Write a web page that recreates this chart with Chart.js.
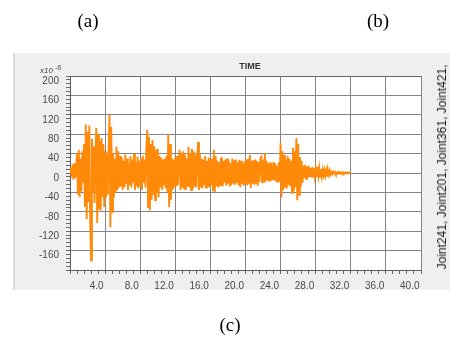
<!DOCTYPE html>
<html><head><meta charset="utf-8">
<script src="https://cdn.jsdelivr.net/npm/chart.js@4/dist/chart.umd.min.js"></script>
<style>
html,body{margin:0;padding:0;background:#fff;}
#wrap{position:relative;width:458px;height:343px;overflow:hidden;font-family:"Liberation Sans",Arial,sans-serif;}
#panel{position:absolute;left:13px;top:53px;width:437px;height:237px;background:#efefef;border-left:2px solid #dcdcdc;box-sizing:border-box;}
#c{position:absolute;left:0;top:0;}
.cap{position:absolute;font-family:"Liberation Serif","Times New Roman",serif;font-size:19px;color:#000;transform:translate(-50%,-50%);white-space:nowrap;}
#title{position:absolute;left:250px;top:66px;transform:translate(-50%,-50%);font-size:9px;font-weight:bold;color:#333;white-space:nowrap;}
#unit{position:absolute;left:40px;top:64px;font-size:8px;font-style:italic;color:#444;white-space:nowrap;}
#unit sup{font-size:7px;vertical-align:3px;margin-left:2px;}
#legend{position:absolute;left:442px;top:167px;transform:translate(-50%,-50%) rotate(-90deg);font-size:12px;white-space:nowrap;color:#1a1a1a;}
</style>
</head><body>
<div id="wrap">
  <div id="panel"></div>
  <canvas id="c" width="458" height="343"></canvas>
  <div class="cap" style="left:88px;top:21px;">(a)</div>
  <div class="cap" style="left:378px;top:21px;">(b)</div>
  <div class="cap" style="left:230px;top:325px;">(c)</div>
  <div id="title">TIME</div>
  <div id="unit">x10<sup>-6</sup></div>
  <div id="legend">Joint241, Joint201, Joint361, Joint421,</div>
</div>
<script>
// sample interval (s)
const dt = 0.1;
// response values (x10^-6), one per 0.1 s from 0.0 to 32.0 s
const values = [
  0, 12, -8, 18, -14, 20, -10, 15, 40, -45,
  48, -50, 30, -38, 45, -20, 60, -70, 100, -95,
  85, -60, 98, -97, -180, 70, -40, 55, -62, 35,
  93, -103, 80, -75, 65, -77, 72, -50, 60, -70,
  45, -50, 38, -45, 50, 120, -112, 95, -80, 40,
  -50, 30, -40, 54, -35, 45, -30, 35, -28, 32,
  -35, 25, -30, 38, -22, 30, -35, 20, -25, 35,
  -30, 28, -20, 40, -35, 22, -28, 34, -32, 25,
  -25, 30, -35, 36, -20, 28, -30, 50, 89, -70,
  75, -77, 60, -55, 68, -45, 55, -56, 48, -40,
  50, -50, 35, -30, 32, -35, 28, -25, 30, -32,
  35, -40, 79, -70, 60, -55, 30, -35, 28, -30,
  32, -28, 35, -25, 30, 48, -35, 40, -30, 45,
  -32, 38, -35, 30, -28, 54, -30, 40, -35, 50,
  -33, 45, -28, 38, -30, 35, 64, -35, 40, -30,
  30, -32, 28, -25, 35, -30, 25, -28, 32, -30,
  28, -25, 30, -35, 48, -39, 35, -28, 25, -30,
  22, -25, 30, 31, -28, 25, -20, 28, -26, 30,
  -22, 25, -28, 20, -25, 30, -22, 26, -24, 28,
  -20, 22, -25, 27, -29, 25, -22, 20, -26, 24,
  -22, 28, -25, 30, -20, 37, -31, 25, -22, 26,
  -24, 28, -20, 25, -26, 22, -18, 30, 33, -21,
  28, -20, 41, -18, 25, -15, 20, -18, 22, -16,
  18, -15, 23, -15, 20, -18, 15, -20, 22, -18,
  62, -50, 45, -35, 37, -30, 28, -32, 35, -25,
  30, -28, 25, -41, 52, -38, 45, -30, 72, -56,
  60, -45, 33, -29, 25, -20, 15, -10, 17, -12,
  14, -10, 15, -8, 10, -9, 12, -8, 10, -7,
  9, -8, 12, -6, 10, -8, 8, -7, 6, -5,
  6, -5, 5, -6, 4, -4, 5, -3, 2, -2,
  2, -1, 2, -2, 1, -1, 2, -1, 1, -1,
  1, -1, 1, -1, 1, 0, 1, -1, 0, 1,
  0
];
// labelled ticks
const xTickValues = [4, 8, 12, 16, 20, 24, 28, 32, 36, 40];
const yTickValues = [200, 160, 120, 80, 40, 0, -40, -80, -120, -160];
const xRange = [0, 40];
const yRange = [-200, 200];

const near = (a, b) => Math.abs(a - b) < 1e-6;
const isXMajor = v => near(v / 4, Math.round(v / 4));
const isYMajor = v => near(v / 40, Math.round(v / 40));

const chartBg = {
  id: 'chartBg',
  beforeDraw(chart) {
    const a = chart.chartArea, c = chart.ctx;
    c.save(); c.fillStyle = '#ffffff';
    c.fillRect(a.left, a.top, a.right - a.left, a.bottom - a.top);
    c.restore();
  }
};

new Chart(document.getElementById('c'), {
  type: 'line',
  data: {
    datasets: [{
      data: values.map((v, i) => ({ x: Math.round(i * dt * 10) / 10, y: v })),
      borderColor: 'rgb(255,138,10)',
      borderWidth: 1.9,
      pointRadius: 0,
      tension: 0,
      fill: false
    }]
  },
  options: {
    animation: false,
    responsive: false,
    events: [],
    layout: { padding: { left: 13, top: 76, right: 37, bottom: 48 } },
    plugins: { legend: { display: false }, tooltip: { enabled: false } },
    scales: {
      x: {
        type: 'linear', min: xRange[0], max: xRange[1], z: 1,
        afterFit: s => { s.height = 25; },
        grid: {
          color: c => (c.tick && isXMajor(c.tick.value) && c.tick.value > 0) ? '#848484' : 'rgba(0,0,0,0)',
          tickColor: '#6a6a6a', tickLength: 4, lineWidth: 1
        },
        border: { color: '#5a5a5a', width: 1 },
        ticks: {
          stepSize: 0.8, autoSkip: false, maxRotation: 0, align: 'end', padding: 6, labelOffset: -1.5,
          color: '#4a4a4a', font: { family: 'Liberation Sans', size: 10 },
          callback: v => xTickValues.some(t => near(t, v)) ? v.toFixed(1) : ''
        }
      },
      y: {
        type: 'linear', min: yRange[0], max: yRange[1], z: 1,
        afterFit: s => { s.width = 57; },
        grid: {
          color: c => !c.tick ? 'rgba(0,0,0,0)' : (near(c.tick.value, 200) ? '#666666' : (isYMajor(c.tick.value) ? '#848484' : 'rgba(0,0,0,0)')),
          tickColor: '#6a6a6a', tickLength: 4, lineWidth: 1
        },
        border: { color: '#5a5a5a', width: 1 },
        ticks: {
          stepSize: 8, autoSkip: false, padding: 7, labelOffset: 5,
          color: '#4a4a4a', font: { family: 'Liberation Sans', size: 10 },
          callback: v => yTickValues.some(t => near(t, v)) ? String(Math.round(v)) : ''
        }
      }
    }
  },
  plugins: [chartBg]
});
</script>
</body></html>
